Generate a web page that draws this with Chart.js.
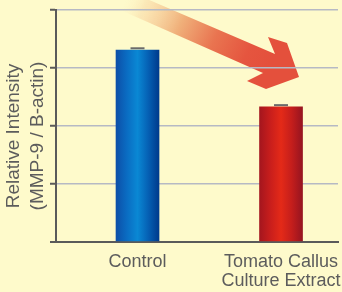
<!DOCTYPE html>
<html>
<head>
<meta charset="utf-8">
<script src="https://cdn.jsdelivr.net/npm/chart.js@4"></script>
<style>
  html, body { margin: 0; padding: 0; background: #fefacb; }
  #wrap { width: 342px; height: 292px; }
</style>
</head>
<body>
<div id="wrap"><canvas id="mmpChart" width="342" height="292"></canvas></div>
<script>
// chart data
const categories = ['Control', ['Tomato Callus', 'Culture Extract']];
const intensity = [3.31, 2.33];
const errors = [0.03, 0.03];
const yTicks = [0, 1, 2, 3, 4];
const yTitle = ['Relative Intensity', '(MMP-9 / Β-actin)'];

const barStops = [
    ['#0d4fa8', '#0a6cc2', '#0a88d4', '#0560b4', '#003a8c'],
    ['#a4161e', '#c81e1c', '#e42a18', '#c41e1c', '#961420']
];
const textColor = '#5c5c5c';

function barGradient(ctx, x, w, stops) {
    const g = ctx.createLinearGradient(x - w / 2, 0, x + w / 2, 0);
    stops.forEach((c, i) => g.addColorStop(i / (stops.length - 1), c));
    return g;
}

// big decorative arrow behind the grid
const arrowPlugin = {
    id: 'arrow',
    beforeDraw(chart) {
        const ctx = chart.ctx;
        const pts = [[112, -16], [275, 54], [268, 37], [287, 43], [299, 77], [266, 89], [247, 81], [263, 73], [100, 1]];
        const g = ctx.createLinearGradient(130, -8, 270, 60);
        g.addColorStop(0, 'rgba(255,240,190,0)');
        g.addColorStop(0.12, 'rgba(248,212,160,0.45)');
        g.addColorStop(0.38, '#f0b07a');
        g.addColorStop(0.62, '#e97450');
        g.addColorStop(0.85, '#e5553f');
        g.addColorStop(1, '#e4503c');
        ctx.save();
        ctx.fillStyle = g;
        ctx.beginPath();
        pts.forEach((p, i) => i ? ctx.lineTo(p[0], p[1]) : ctx.moveTo(p[0], p[1]));
        ctx.closePath();
        ctx.fill();
        ctx.restore();
    }
};

const errorBars = {
    id: 'errorBars',
    afterDatasetsDraw(chart) {
        const { ctx, scales: { x, y } } = chart;
        ctx.save();
        ctx.strokeStyle = '#6b6b6b';
        ctx.lineWidth = 2;
        intensity.forEach((v, i) => {
            const px = x.getPixelForValue(i);
            const top = y.getPixelForValue(v + errors[i]);
            ctx.beginPath();
            ctx.moveTo(px - 7, top);
            ctx.lineTo(px + 7, top);
            ctx.stroke();
        });
        ctx.restore();
    }
};

const yTitlePlugin = {
    id: 'yTitle',
    afterDraw(chart) {
        const ctx = chart.ctx;
        ctx.save();
        ctx.fillStyle = textColor;
        ctx.font = '19px "Liberation Sans", Arial, sans-serif';
        ctx.textAlign = 'center';
        ctx.textBaseline = 'middle';
        yTitle.forEach((line, i) => {
            ctx.save();
            ctx.translate(14 + i * 24, 136);
            ctx.rotate(-Math.PI / 2);
            ctx.fillText(line, 0, 0);
            ctx.restore();
        });
        ctx.restore();
    }
};

window.onload = function() {
    const ctx = document.getElementById('mmpChart').getContext('2d');
    new Chart(ctx, {
        type: 'bar',
        data: {
            datasets: [{
                data: intensity.map((v, i) => ({ x: i, y: v })),
                barThickness: 43,
                borderWidth: 0,
                backgroundColor: (c) => {
                    const chart = c.chart;
                    if (!chart.chartArea || c.dataIndex === undefined) return barStops[0][2];
                    const x = chart.scales.x.getPixelForValue(c.dataIndex);
                    return barGradient(chart.ctx, x, 43, barStops[c.dataIndex]);
                }
            }]
        },
        options: {
            responsive: false,
            animation: false,
            layout: { padding: { top: 10, right: 4, left: 0, bottom: 0 } },
            plugins: {
                legend: { display: false },
                tooltip: { enabled: false }
            },
            scales: {
                x: {
                    type: 'linear',
                    min: -0.568,
                    max: 1.397,
                    offset: false,
                    bounds: 'data',
                    afterBuildTicks: (s) => { s.ticks = categories.map((_, i) => ({ value: i })); },
                    afterFit: (s) => { s.height = 50; s.paddingLeft = 0; s.paddingRight = 0; },
                    grid: { display: false, offset: false },
                    border: { display: true, color: '#5a5a5a', width: 2 },
                    ticks: {
                        callback: (v) => categories[v],
                        color: textColor,
                        font: { family: '"Liberation Sans", Arial, sans-serif', size: 18, lineHeight: 1.06 },
                        padding: 2,
                        maxRotation: 0,
                        autoSkip: false
                    }
                },
                y: {
                    min: yTicks[0],
                    max: yTicks[yTicks.length - 1],
                    afterBuildTicks: (s) => { s.ticks = yTicks.map(v => ({ value: v })); },
                    afterFit: (s) => { s.width = 56; },
                    ticks: { display: false },
                    border: { color: '#5a5a5a', width: 2 },
                    grid: {
                        color: (c) => c.tick && c.tick.value === 0 ? '#5a5a5a' : '#b6b9c4',
                        lineWidth: (c) => c.tick && c.tick.value === 0 ? 2 : 1.5,
                        tickColor: '#5a5a5a',
                        tickLength: 6,
                        tickWidth: 2
                    }
                }
            }
        },
        plugins: [arrowPlugin, errorBars, yTitlePlugin]
    });
};
</script>
</body>
</html>
